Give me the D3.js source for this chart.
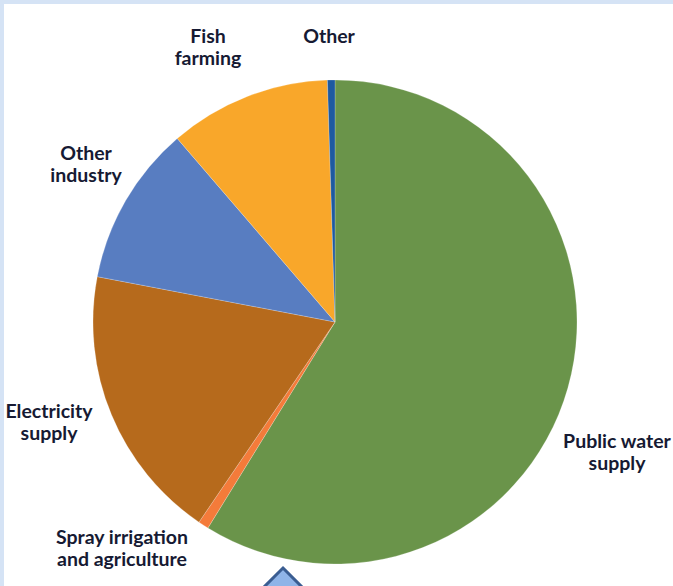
<!DOCTYPE html>
<html>
<head>
<meta charset="utf-8">
<script src="https://cdn.jsdelivr.net/npm/d3@7"></script>
<style>
  html, body { margin: 0; padding: 0; background: #fff; }
  svg { display: block; }
</style>
</head>
<body>
<script>
// Water abstraction by use (share of total, %)
const categories = ["Public water supply", "Spray irrigation and agriculture", "Electricity supply", "Other industry", "Fish farming", "Other"];
const values = [58.8, 0.7, 18.5, 10.7, 10.8, 0.5];
const colors = ["#6a944a", "#f47b3a", "#b66a1c", "#587dc1", "#f9a72a", "#1e5aa0"];
const labelLines = [["Public water", "supply"], ["Spray irrigation", "and agriculture"], ["Electricity", "supply"], ["Other", "industry"], ["Fish", "farming"], ["Other"]];

const W = 673, H = 586;
const cx = 335, cy = 322, R = 242;

const svg = d3.select("body").append("svg").attr("width", W).attr("height", H);

// light blue frame along the top and left edges
svg.append("rect").attr("x", 0).attr("y", 0).attr("width", W).attr("height", 4).attr("fill", "#d5e3f5");
svg.append("rect").attr("x", 0).attr("y", 0).attr("width", 4).attr("height", H).attr("fill", "#d5e3f5");

const data = categories.map((c, i) => ({ category: c, value: values[i], color: colors[i], lines: labelLines[i] }));

const pie = d3.pie().sort(null).value(d => d.value).startAngle(0).endAngle(2 * Math.PI);
const arc = d3.arc().innerRadius(0).outerRadius(R);

const g = svg.append("g").attr("transform", `translate(${cx},${cy})`);
g.selectAll("path.slice")
  .data(pie(data))
  .join("path")
  .attr("class", "slice")
  .attr("d", arc)
  .attr("fill", d => d.data.color)
  .attr("stroke", "#ffffff")
  .attr("stroke-opacity", 0.35)
  .attr("stroke-width", 0.6);

// label anchors (centre of the text block, first baseline)
const labelPos = {
  "Public water supply": [617, 448],
  "Spray irrigation and agriculture": [122, 544],
  "Electricity supply": [49, 418],
  "Other industry": [86, 160],
  "Fish farming": [208, 43],
  "Other": [329, 43]
};
const lineH = 22;

const labels = svg.append("g")
  .attr("font-family", "Lato, 'Open Sans', sans-serif")
  .attr("font-weight", 700)
  .attr("font-size", 19.5)
  .attr("fill", "#161a33")
  .attr("text-anchor", "middle");

data.forEach(d => {
  const [x, y] = labelPos[d.category];
  const t = labels.append("text").attr("x", x).attr("y", y);
  d.lines.forEach((line, i) => {
    t.append("tspan").attr("x", x).attr("dy", i === 0 ? 0 : lineH).text(line);
  });
});

// navigation marker at the bottom edge
svg.append("path")
  .attr("d", "M283,568 L302,587 L283,606 L264,587 Z")
  .attr("fill", "#8fb4e8")
  .attr("stroke", "#3a5d92")
  .attr("stroke-width", 3)
  .attr("stroke-linejoin", "miter");
</script>
</body>
</html>
